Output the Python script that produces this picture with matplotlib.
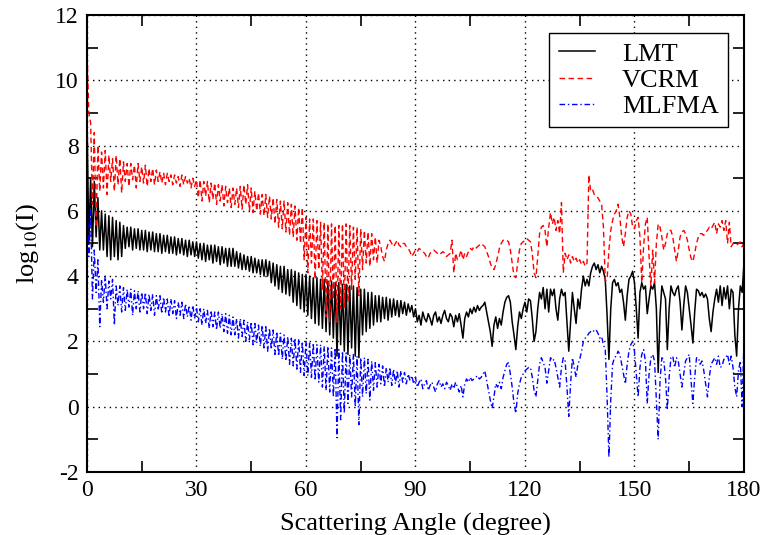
import numpy as np
import matplotlib
matplotlib.use("Agg")
import matplotlib.pyplot as plt
from matplotlib.ticker import MultipleLocator

plt.rcParams['font.family'] = ['Liberation Serif', 'DejaVu Serif']
plt.rcParams['mathtext.fontset'] = 'stix'
plt.rcParams['axes.unicode_minus'] = False

# scattering angle, sampled every half degree (0 .. 180)
angle = np.linspace(0, 180, 361)

# log10 intensity, one row per 10 degrees
lmt = [
    9.0, 5.0, 7.0, 4.9, 6.9, 5.2, 6.4, 4.8, 6.0, 4.8, 5.9, 4.6, 5.85, 4.5, 5.8, 4.6, 5.7, 4.5, 5.65, 4.6,
    5.55, 4.85, 5.5, 4.9, 5.5, 4.8, 5.45, 4.85, 5.45, 4.8, 5.4, 4.8, 5.4, 4.75, 5.35, 4.8, 5.35, 4.75, 5.3, 4.75,
    5.3, 4.7, 5.25, 4.75, 5.25, 4.7, 5.2, 4.7, 5.2, 4.65, 5.15, 4.7, 5.15, 4.65, 5.1, 4.6, 5.1, 4.65, 5.05, 4.6,
    5.05, 4.55, 5.0, 4.5, 5.0, 4.45, 4.95, 4.5, 4.95, 4.4, 4.95, 4.45, 4.9, 4.35, 4.9, 4.4, 4.85, 4.3, 4.85, 4.3,
    4.85, 4.3, 4.75, 4.25, 4.7, 4.2, 4.65, 4.2, 4.6, 4.15, 4.6, 4.1, 4.55, 4.1, 4.5, 4.05, 4.5, 4.0, 4.5, 4.0,
    4.45, 3.8, 4.4, 3.7, 4.35, 3.6, 4.3, 3.5, 4.3, 3.45, 4.2, 3.4, 4.2, 3.2, 4.15, 3.1, 4.1, 3.0, 4.05, 2.9,
    4.05, 2.8, 4.0, 2.7, 3.95, 2.55, 3.95, 2.5, 3.9, 2.4, 3.9, 2.3, 3.85, 2.2, 3.85, 2.1, 3.8, 1.55, 3.8, 1.9,
    3.75, 1.7, 3.75, 1.6, 3.7, 1.8, 3.7, 1.55, 3.65, 1.5, 3.6, 2.2, 3.6, 2.3, 3.5, 2.4, 3.5, 2.5, 3.4, 2.6,
    3.4, 2.6, 3.35, 2.7, 3.35, 2.65, 3.3, 2.75, 3.3, 2.8, 3.25, 2.75, 3.25, 2.85, 3.2, 2.8, 3.15, 2.9, 3.1, 2.75,
    3.0, 2.6, 2.8, 2.5, 2.9, 2.7, 2.6, 2.85, 2.7, 2.5, 2.8, 2.9, 2.6, 2.75, 2.55, 2.8, 2.95, 2.7, 2.6, 2.85,
    2.75, 2.45, 2.8, 2.6, 2.85, 2.5, 2.1, 2.7, 2.9, 2.75, 3.0, 2.85, 3.05, 2.9, 3.1, 2.95, 3.05, 3.1, 3.2, 2.9,
    2.6, 2.3, 1.85, 2.5, 2.75, 2.4, 2.7, 2.5, 2.9, 3.2, 3.35, 3.4, 3.2, 2.6, 2.2, 1.75, 2.45, 2.9, 2.7, 3.0,
    3.2, 2.9, 3.3, 3.25, 2.7, 2.0, 2.3, 3.0, 3.5, 3.3, 3.65, 3.0, 3.6, 2.9, 3.6, 3.4, 3.6, 3.0, 2.65, 3.3,
    3.6, 3.4, 3.5, 2.6, 1.7, 2.6, 3.5, 3.0, 2.55, 3.3, 3.0, 3.6, 4.0, 3.7, 3.9, 3.7, 4.1, 4.3, 4.4, 4.2,
    4.35, 4.1, 4.3, 4.15, 3.9, 2.8, 1.45, 3.0, 3.8, 3.9, 3.7, 3.8, 3.5, 3.6, 3.2, 2.65, 3.4, 3.9, 4.0, 4.15,
    3.8, 3.0, 2.1, 3.5, 3.8, 3.6, 3.7, 2.85, 3.3, 3.7, 3.6, 3.8, 3.0, 1.05, 2.8, 3.7, 3.5, 3.3, 1.75, 3.0,
    3.7, 3.5, 3.4, 3.6, 3.7, 3.2, 2.35, 3.1, 3.7, 3.5, 3.0, 2.5, 1.95, 2.9, 3.6, 3.55, 3.4, 3.5, 3.35, 3.45,
    3.3, 2.7, 2.3, 2.9, 3.3, 3.6, 3.2, 3.7, 3.1, 3.65, 3.3, 3.7, 3.0, 3.6, 3.5, 2.2, 1.55, 3.0, 3.7, 3.5,
    4.4,
]

vcrm = [
    11.0, 9.0, 8.7, 6.2, 8.4, 5.5, 8.0, 6.6, 7.8, 6.7, 7.85, 6.5, 7.7, 6.9, 7.6, 6.6, 7.7, 6.8, 7.6, 6.55,
    7.5, 6.9, 7.45, 6.75, 7.45, 6.95, 7.4, 6.7, 7.45, 6.9, 7.35, 6.85, 7.4, 6.75, 7.3, 6.9, 7.3, 6.8, 7.25, 6.9,
    7.2, 6.85, 7.15, 6.8, 7.15, 6.9, 7.1, 6.8, 7.1, 6.85, 7.05, 6.75, 7.1, 6.8, 7.05, 6.85, 7.0, 6.7, 7.0, 6.75,
    6.95, 6.4, 6.95, 6.3, 6.9, 6.45, 6.9, 6.25, 6.85, 6.35, 6.85, 6.2, 6.8, 6.3, 6.8, 6.15, 6.75, 6.25, 6.7, 6.1,
    6.7, 6.2, 6.7, 6.1, 6.75, 6.05, 6.8, 6.2, 6.8, 6.0, 6.7, 5.95, 6.6, 6.0, 6.55, 5.9, 6.5, 5.85, 6.5, 5.8,
    6.45, 5.75, 6.4, 5.6, 6.35, 5.5, 6.3, 5.45, 6.3, 5.35, 6.25, 5.25, 6.2, 5.2, 6.15, 5.1, 6.1, 5.0, 6.1, 4.5,
    5.8, 4.1, 5.75, 4.4, 5.75, 3.9, 5.7, 4.2, 5.65, 3.6, 5.65, 2.75, 5.6, 2.6, 5.6, 3.3, 5.55, 2.6, 5.55, 3.0,
    5.6, 3.05, 5.6, 3.2, 5.55, 3.6, 5.5, 3.9, 5.5, 3.4, 5.45, 4.2, 5.4, 4.4, 5.35, 4.3, 5.3, 4.5, 5.2, 4.4,
    5.1, 4.9, 4.6, 4.45, 4.8, 5.0, 5.1, 5.0, 4.9, 5.0, 5.1, 4.95, 4.9, 5.0, 5.0, 4.9, 4.85, 4.75, 4.6, 4.7,
    4.8, 4.75, 4.85, 4.8, 4.75, 4.7, 4.6, 4.55, 4.7, 4.75, 4.8, 4.75, 4.7, 4.65, 4.7, 4.75, 4.7, 4.6, 4.65, 4.7,
    5.1, 4.1, 4.7, 4.5, 4.6, 4.8, 4.5, 4.7, 4.6, 4.75, 4.85, 4.8, 4.9, 4.85, 4.9, 4.95, 5.0, 4.95, 4.9, 4.75,
    4.6, 4.4, 4.25, 4.2, 4.35, 4.6, 4.85, 5.0, 5.1, 5.1, 5.1, 5.05, 4.8, 4.4, 4.0, 3.95, 4.4, 4.8, 5.0, 5.05,
    5.1, 5.15, 5.1, 5.05, 4.7, 4.1, 3.95, 4.6, 5.3, 5.5, 5.55, 5.4, 4.9, 5.5, 5.95, 5.6, 5.8, 5.4, 5.7, 5.3,
    6.25, 4.1, 4.7, 4.5, 4.65, 4.4, 4.6, 4.45, 4.55, 4.4, 4.5, 4.35, 4.45, 4.3, 4.4, 7.1, 6.6, 6.65, 6.5, 6.45,
    6.4, 6.3, 6.2, 5.5, 3.85, 3.9, 4.8, 5.4, 5.7, 5.9, 6.0, 6.2, 5.8, 5.2, 4.9, 5.3, 5.8, 6.0, 5.9, 5.5,
    5.45, 5.7, 5.8, 5.2, 3.8, 4.9, 5.6, 5.8, 4.6, 3.7, 4.8, 3.8, 5.0, 5.6, 5.5, 5.2, 4.8, 5.0, 5.3, 5.4,
    5.4, 5.2, 4.8, 4.45, 4.8, 5.2, 5.35, 5.4, 5.3, 5.1, 4.8, 4.55, 4.45, 4.7, 5.0, 5.2, 5.3, 5.3, 5.25, 5.35,
    5.4, 5.5, 5.45, 5.55, 5.65, 5.3, 5.6, 5.5, 5.7, 5.4, 5.7, 5.0, 5.65, 4.9, 5.0, 5.0, 4.95, 5.0, 5.05, 4.9,
    5.0,
]

mlfma = [
    6.4, 4.6, 6.0, 3.3, 4.8, 3.5, 4.5, 2.45, 3.9, 3.2, 4.0, 3.0, 3.85, 3.3, 3.9, 2.5, 3.7, 3.1, 3.7, 2.9,
    3.65, 2.95, 3.6, 3.05, 3.6, 2.8, 3.55, 3.0, 3.55, 2.9, 3.5, 3.0, 3.5, 2.85, 3.45, 2.95, 3.45, 2.8, 3.4, 2.95,
    3.4, 2.85, 3.35, 2.9, 3.3, 2.75, 3.3, 2.85, 3.25, 2.7, 3.2, 2.8, 3.2, 2.7, 3.15, 2.75, 3.1, 2.65, 3.1, 2.7,
    3.05, 2.6, 3.0, 2.5, 3.0, 2.55, 2.95, 2.4, 2.95, 2.45, 2.9, 2.35, 2.9, 2.4, 2.85, 2.3, 2.85, 2.25, 2.8, 2.2,
    2.75, 2.2, 2.7, 2.1, 2.7, 2.15, 2.65, 2.0, 2.6, 2.05, 2.6, 1.9, 2.55, 1.95, 2.5, 1.85, 2.5, 1.8, 2.45, 1.7,
    2.4, 1.75, 2.35, 1.6, 2.3, 1.55, 2.25, 1.45, 2.2, 1.4, 2.15, 1.3, 2.1, 1.25, 2.1, 1.15, 2.05, 1.05, 2.0, 0.95,
    2.0, 0.95, 1.95, 0.9, 1.95, 0.8, 1.9, 0.75, 1.9, 0.6, 1.85, 0.5, 1.85, 0.45, 1.8, 0.3, 1.8, -0.95, 1.75, -0.4,
    1.7, -0.2, 1.65, 0.1, 1.6, 0.3, 1.6, 0.0, 1.55, -0.55, 1.5, 0.3, 1.5, 0.4, 1.45, 0.2, 1.4, 0.5, 1.35, 0.6,
    1.3, 0.7, 1.25, 0.6, 1.2, 0.75, 1.2, 0.65, 1.15, 0.7, 1.1, 0.6, 1.1, 0.75, 1.05, 0.7, 1.0, 0.8, 0.95, 0.7,
    0.9, 0.6, 0.75, 0.85, 0.55, 0.7, 0.8, 0.5, 0.65, 0.75, 0.6, 0.45, 0.7, 0.8, 0.6, 0.7, 0.55, 0.75, 0.65, 0.5,
    0.7, 0.55, 0.75, 0.6, 0.45, 0.65, 0.3, 0.7, 0.85, 0.75, 0.9, 0.8, 0.85, 0.9, 0.95, 0.85, 0.9, 1.0, 1.1, 0.8,
    0.5, 0.2, -0.05, 0.3, 0.7, 0.6, 0.75, 0.55, 0.9, 1.1, 1.3, 1.35, 1.0, 0.6, 0.1, -0.2, 0.4, 0.7, 0.9, 1.0,
    1.1, 1.15, 1.2, 1.2, 0.9, 0.5, 0.3, 0.8, 1.3, 1.5, 1.35, 1.2, 0.72, 1.1, 1.5, 1.4, 1.45, 1.2, 0.9, 0.6,
    1.2, 1.5, 1.4, 0.6, -0.3, 0.7, 1.5, 1.2, 0.9, 1.3, 1.45, 1.7, 2.0, 2.1, 2.15, 2.25, 2.3, 2.35, 2.3, 2.35,
    2.25, 2.1, 2.15, 1.9, 1.75, 0.3, -1.55, 0.2, 1.3, 1.5, 1.55, 1.7, 1.6, 1.3, 1.0, 0.7, 1.3, 1.7, 1.9, 2.0,
    1.7, 1.0, 0.3, 1.2, 1.6, 1.75, 1.4, 0.1, 1.0, 1.5, 1.6, 1.4, 0.2, -1.0, 0.8, 1.5, 1.45, 0.9, -0.1, 0.9,
    1.5, 1.55, 1.2, 1.5, 1.4, 1.0, 0.6, 1.0, 1.4, 1.5, 1.6, 0.8, 0.1, 0.9, 1.5, 1.5, 1.3, 1.4, 1.1, 0.7,
    0.3, 0.9, 1.3, 1.4, 1.5, 1.3, 1.55, 1.2, 1.25, 1.45, 1.5, 1.6, 1.3, 1.55, 1.2, 0.6, 0.3, 1.1, 1.4, 0.0,
    2.0,
]

fig = plt.figure(figsize=(7.65, 5.35), dpi=100)
ax = fig.add_axes([0.1137, 0.1178, 0.8588, 0.8542])

ax.plot(angle, lmt, color='black', lw=1.1, label='LMT')
ax.plot(angle, vcrm, color='red', lw=1.0, ls=(0, (4, 2.5)), label='VCRM')
ax.plot(angle, mlfma, color='blue', lw=1.0, ls=(0, (4, 2, 1, 2)), label='MLFMA')

ax.set_xlim(0, 180)
ax.set_ylim(-2, 12)
ax.xaxis.set_major_locator(MultipleLocator(30))
ax.xaxis.set_minor_locator(MultipleLocator(15))
ax.yaxis.set_major_locator(MultipleLocator(2))
ax.yaxis.set_minor_locator(MultipleLocator(1))
ax.tick_params(which='major', direction='in', length=0, labelsize=17, pad=6,
               top=True, right=True)
ax.tick_params(which='minor', direction='in', length=8, width=1.2,
               top=True, right=True)
ax.grid(True, which='major', color='black', ls=(0, (1, 3)), lw=1.0)
for s in ax.spines.values():
    s.set_linewidth(1.5)

ax.set_xlabel('Scattering Angle (degree)', fontsize=19, labelpad=8)
ax.set_ylabel('log$_{10}$(I)', fontsize=19, labelpad=10)

leg = ax.legend(loc='upper right', bbox_to_anchor=(0.9757, 0.9606), fontsize=19,
                fancybox=False, framealpha=1, edgecolor='black',
                handlelength=1.4, borderpad=0.35, labelspacing=0.1,
                handletextpad=1.0, borderaxespad=0)
leg.get_frame().set_linewidth(1.0)

fig.savefig('out.png', dpi=100)
